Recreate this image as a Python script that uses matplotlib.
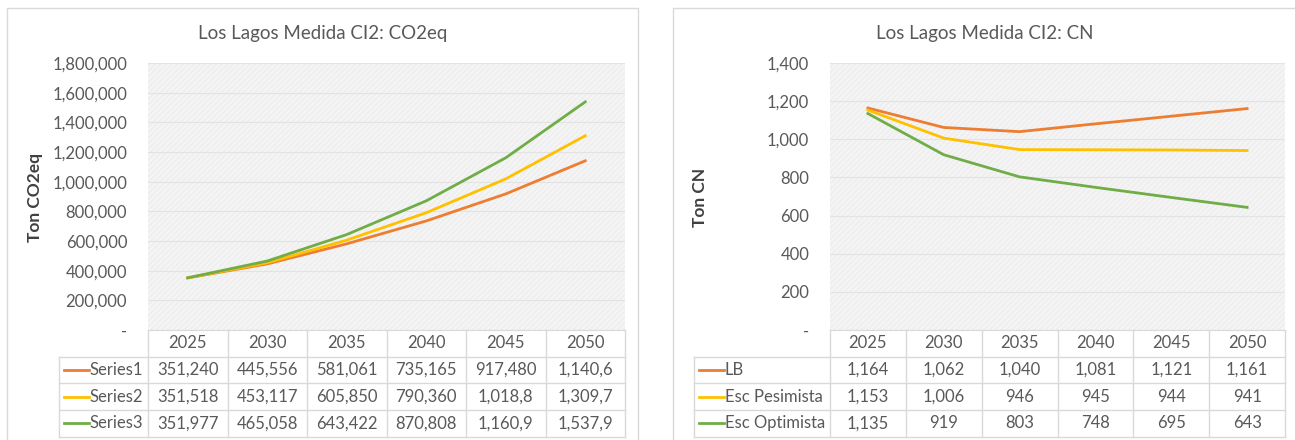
import matplotlib.pyplot as plt
from matplotlib.patches import Rectangle
from matplotlib.ticker import FuncFormatter

plt.rcParams['font.family'] = ['Lato', 'DejaVu Sans']

years = ['2025', '2030', '2035', '2040', '2045', '2050']

co2_names = ['Series1', 'Series2', 'Series3']
co2_s1 = [351240, 445556, 581061, 735165, 917480, 1140600]
co2_s2 = [351518, 453117, 605850, 790360, 1018800, 1309700]
co2_s3 = [351977, 465058, 643422, 870808, 1160900, 1537900]

cn_names = ['LB', 'Esc Pesimista', 'Esc Optimista']
cn_lb = [1164, 1062, 1040, 1081, 1121, 1161]
cn_pes = [1153, 1006, 946, 945, 944, 941]
cn_opt = [1135, 919, 803, 748, 695, 643]

colors = ['#ED7D31', '#FFC000', '#70AD47']
grid_c = '#d9d9d9'
txt_c = '#595959'

W, H = 1295, 440
fig = plt.figure(figsize=(W / 100, H / 100), dpi=100)


def fx(px):
    return px / W


def fy(py):
    return 1 - py / H


# chart frames
for x0, x1 in [(7, 638), (673, 1310)]:
    fig.patches.append(Rectangle((fx(x0), fy(460)), fx(x1 - x0), (460 - 8) / H,
                                 transform=fig.transFigure, fill=False,
                                 edgecolor=grid_c, lw=1))


def comma(v, pos=None):
    return '-' if v == 0 else f'{int(v):,}'


def draw(px_left, px_right, series, names, ymax, ystep, title, ylabel,
         title_x, label_x, row_left, clip):
    top, bot = 63, 330
    ax = fig.add_axes([fx(px_left), fy(bot), fx(px_right - px_left), (bot - top) / H])
    ax.set_facecolor('#efefef')
    ax.add_patch(Rectangle((0, 0), 1, 1, transform=ax.transAxes, fill=False,
                           hatch='//////', edgecolor='#f7f7f7', lw=0, zorder=0))
    x = list(range(len(years)))
    for vals, c in zip(series, colors):
        ax.plot(x, vals, color=c, lw=2, zorder=3)
    ax.set_xlim(-0.5, len(years) - 0.5)
    ax.set_ylim(0, ymax)
    ax.set_yticks(range(0, ymax + 1, ystep))
    ax.yaxis.set_major_formatter(FuncFormatter(comma))
    ax.tick_params(axis='y', length=0, pad=15, labelsize=12, labelcolor=txt_c)
    ax.set_xticks([])
    ax.grid(axis='y', color='#e3e3e3', lw=0.8)
    ax.set_axisbelow(True)
    for s in ['left', 'top', 'right']:
        ax.spines[s].set_visible(False)
    ax.spines['bottom'].set_color(grid_c)

    fig.text(fx(title_x), fy(33), title, ha='center', va='center',
             fontsize=13.5, color=txt_c)
    fig.text(fx(label_x), fy(197), ylabel, ha='center', va='center',
             rotation=90, fontsize=12.5, fontweight='bold', color='#404040')

    # data table below the plot
    row_h = 26.7
    rows_y = [bot + row_h * (i + 1) for i in range(4)]
    col_w = (px_right - px_left) / len(years)
    line_kw = dict(color=grid_c, lw=1, transform=fig.transFigure)
    for i in range(len(years) + 1):
        xx = fx(px_left + i * col_w)
        fig.add_artist(plt.Line2D([xx, xx], [fy(bot), fy(rows_y[-1])], **line_kw))
    fig.add_artist(plt.Line2D([fx(row_left), fx(row_left)],
                              [fy(rows_y[0]), fy(rows_y[-1])], **line_kw))
    for yy in rows_y:
        fig.add_artist(plt.Line2D([fx(row_left), fx(px_right)], [fy(yy), fy(yy)], **line_kw))
    for i, yr in enumerate(years):
        fig.text(fx(px_left + (i + 0.5) * col_w), fy(bot + row_h / 2), yr,
                 ha='center', va='center', fontsize=12, color=txt_c)
    for r, (vals, name, c) in enumerate(zip(series, names, colors)):
        yc = fy(rows_y[r] + row_h / 2)
        fig.add_artist(plt.Line2D([fx(row_left + 5), fx(row_left + 30)], [yc, yc],
                                  color=c, lw=2, transform=fig.transFigure))
        fig.text(fx(row_left + 31), yc, name, ha='left', va='center',
                 fontsize=12, color=txt_c)
        for i, v in enumerate(vals):
            fig.text(fx(px_left + (i + 0.5) * col_w), yc, f'{v:,}'[:clip],
                     ha='center', va='center', fontsize=12, color=txt_c)
    return ax


draw(148, 625, [co2_s1, co2_s2, co2_s3], co2_names, 1800000, 200000,
     'Los Lagos Medida CI2: CO2eq', 'Ton CO2eq', 323, 35, 59, 7)
draw(830, 1285, [cn_lb, cn_pes, cn_opt], cn_names, 1400, 200,
     'Los Lagos Medida CI2: CN', 'Ton CN', 985, 700, 694, 9)

fig.savefig('out.png', dpi=100)
